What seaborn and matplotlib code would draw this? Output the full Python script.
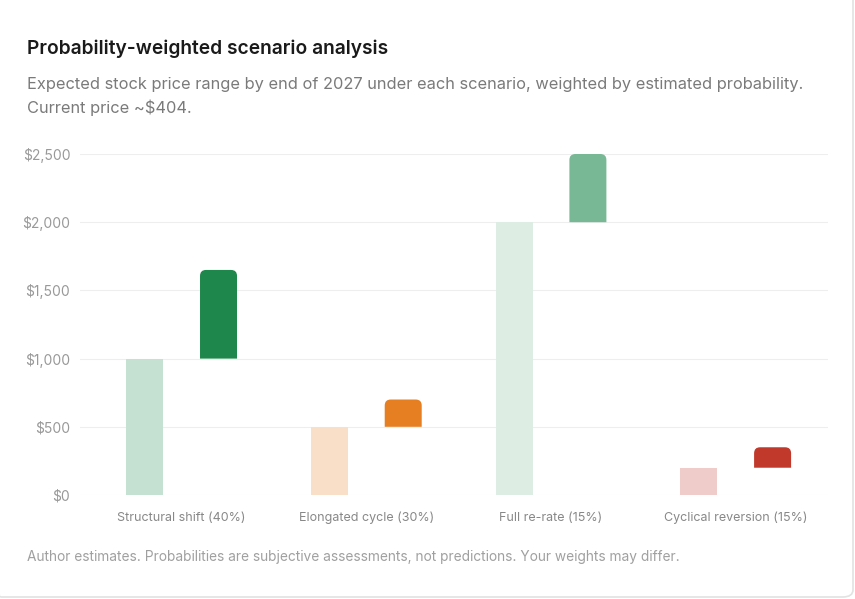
import pandas as pd
import seaborn as sns
import matplotlib.pyplot as plt
from matplotlib.patches import FancyBboxPatch, PathPatch
from matplotlib.path import Path
from matplotlib.ticker import FuncFormatter

# data
scenarios = ["Structural shift (40%)", "Elongated cycle (30%)",
             "Full re-rate (15%)", "Cyclical reversion (15%)"]
low_vals = [1000, 500, 2000, 200]
high_vals = [1650, 700, 2500, 350]
dark_colors = ["#1e874b", "#e67e22", "#78b894", "#c0392b"]
light_colors = ["#c5e1d1", "#f9dfc8", "#deede4", "#efcbc9"]

df = pd.DataFrame({
    "scenario": scenarios * 2,
    "kind": ["low"] * 4 + ["high"] * 4,
    "value": low_vals + high_vals,
})

sns.set_theme(style="white")
plt.rcParams['font.family'] = ['Inter', 'DejaVu Sans']

fig = plt.figure(figsize=(8.55, 5.99), dpi=100)
ax = fig.add_axes([80 / 855, 104 / 599, 748 / 855, 341 / 599])

sns.barplot(data=df, x="scenario", y="value", hue="kind", order=scenarios,
            hue_order=["low", "high"], dodge=True, gap=0.0, width=0.8,
            legend=False, ax=ax, saturation=1)

ax.set_xlim(-0.55, 3.5)
ax.set_ylim(0, 2500)

# px per data unit, used for the rounded tops
x_px = 748 / 4.05
y_px = 341 / 2500
r_px = 6


def rounded_top(x0, w, lo, hi):
    rx = r_px / x_px
    ry = r_px / y_px
    x1 = x0 + w
    verts = [(x0, lo), (x1, lo), (x1, hi - ry), (x1, hi), (x1 - rx, hi),
             (x0 + rx, hi), (x0, hi), (x0, hi - ry), (x0, lo)]
    codes = [Path.MOVETO, Path.LINETO, Path.LINETO, Path.CURVE3, Path.CURVE3,
             Path.LINETO, Path.CURVE3, Path.CURVE3, Path.CLOSEPOLY]
    return Path(verts, codes)


bars = list(ax.patches)
new_w = 37 / x_px
for i, p in enumerate(bars):
    k = i % 4
    cx = p.get_x() + p.get_width() / 2
    p.set_x(cx - new_w / 2)
    p.set_width(new_w)
    p.set_edgecolor("none")
    if i < 4:
        p.set_facecolor(light_colors[k])
    else:
        p.set_visible(False)
        ax.add_patch(PathPatch(rounded_top(cx - new_w / 2, new_w, low_vals[k], high_vals[k]),
                               facecolor=dark_colors[k], edgecolor="none",
                               clip_on=False, zorder=3))

ax.set_yticks([0, 500, 1000, 1500, 2000, 2500])
ax.yaxis.set_major_formatter(FuncFormatter(lambda v, _: f"${v:,.0f}"))
ax.grid(axis="y", color="#eeeeee", linewidth=0.8)
ax.set_axisbelow(True)
for s in ax.spines.values():
    s.set_visible(False)
ax.tick_params(axis="y", length=0, pad=7, labelsize=10, labelcolor="#999999")
ax.tick_params(axis="x", length=0, pad=19, labelsize=9, labelcolor="#888888")
for lab in ax.get_xticklabels():
    lab.set_va("baseline")
ax.set_xlabel("")
ax.set_ylabel("")

fig.text(27 / 855, 1 - 49 / 599, "Probability-weighted scenario analysis",
         fontsize=13.8, fontweight="semibold", color="#1a1a1a", va="center")
fig.text(27 / 855, 1 - 84 / 599,
         "Expected stock price range by end of 2027 under each scenario, weighted by estimated probability.",
         fontsize=11.8, color="#7a7a7a", va="center")
fig.text(27 / 855, 1 - 108 / 599, "Current price ~$404.",
         fontsize=11.8, color="#7a7a7a", va="center")
fig.text(27 / 855, 1 - 557 / 599,
         "Author estimates. Probabilities are subjective assessments, not predictions. Your weights may differ.",
         fontsize=9.9, color="#a0a0a0", va="center")

card = FancyBboxPatch((-10 / 855, 2 / 599), 863 / 855, 620 / 599,
                      boxstyle="round,pad=0,rounding_size=0.012",
                      transform=fig.transFigure, facecolor="none",
                      edgecolor="#e2e2e2", linewidth=1.2)
fig.patches.append(card)

fig.savefig("out.png", dpi=100)
